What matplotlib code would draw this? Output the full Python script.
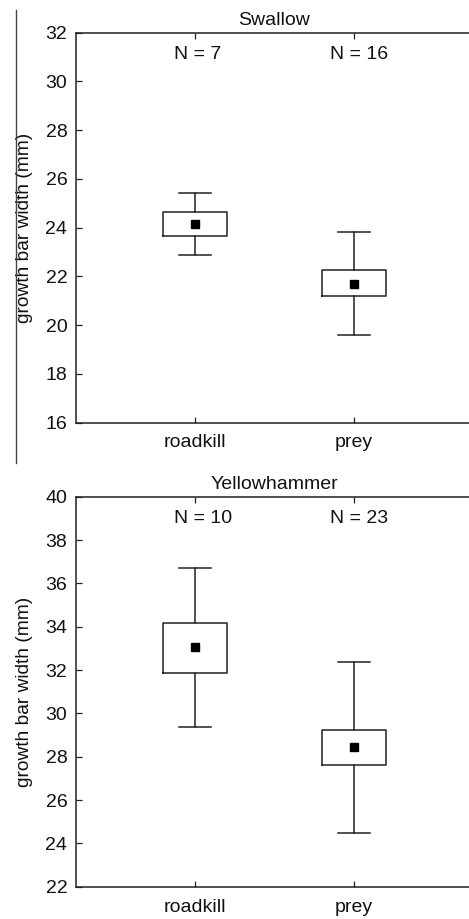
import matplotlib
matplotlib.use("Agg")
import matplotlib.pyplot as plt
from matplotlib.lines import Line2D

plt.rcParams['font.family'] = ['Liberation Sans', 'DejaVu Sans']

categories = ["roadkill", "prey"]

# Swallow
sw_title = "Swallow"
sw_n = [7, 16]
sw_mean = [24.17, 21.71]
sw_q1 = [23.66, 21.19]
sw_q3 = [24.63, 22.25]
sw_lo = [22.88, 19.60]
sw_hi = [25.41, 23.81]
sw_ylim = (16, 32)
sw_yticks = [16, 18, 20, 22, 24, 26, 28, 30, 32]

# Yellowhammer
yh_title = "Yellowhammer"
yh_n = [10, 23]
yh_mean = [33.04, 28.44]
yh_q1 = [31.88, 27.61]
yh_q3 = [34.19, 29.25]
yh_lo = [29.39, 24.46]
yh_hi = [36.69, 32.39]
yh_ylim = (22, 40)
yh_yticks = [22, 24, 26, 28, 30, 32, 34, 36, 38, 40]

ylabel = "growth bar width (mm)"
LC = "#222222"
TC = "#111111"

fig = plt.figure(figsize=(4.69, 9.19), dpi=100)

def panel(rect, title, n, mean, q1, q3, lo, hi, ylim, yticks):
    ax = fig.add_axes(rect)
    stats = []
    for i in range(len(categories)):
        stats.append(dict(med=mean[i], mean=mean[i], q1=q1[i], q3=q3[i],
                          whislo=lo[i], whishi=hi[i], fliers=[], label=categories[i]))
    ax.bxp(stats, positions=[1, 2], widths=0.404, capwidths=0.203,
           showmeans=True, showfliers=False,
           boxprops=dict(color=LC, linewidth=1.1),
           whiskerprops=dict(color=LC, linewidth=1.1),
           capprops=dict(color=LC, linewidth=1.1),
           medianprops=dict(visible=False),
           meanprops=dict(marker='s', markerfacecolor='black', markeredgecolor='black',
                          markersize=5.5))
    ax.set_xlim(0.25, 2.75)
    ax.set_ylim(*ylim)
    ax.set_yticks(yticks)
    ax.set_xticks([1, 2])
    ax.set_xticklabels(categories)
    ax.tick_params(axis='both', direction='in', length=4, width=0.9, color=LC,
                   labelsize=14, pad=6, top=True, labelcolor=TC)
    ax.tick_params(axis='x', pad=8.5)
    ax.spines['right'].set_visible(False)
    for s in ['left', 'top', 'bottom']:
        ax.spines[s].set_color(LC)
        ax.spines[s].set_linewidth(1.1)
    ax.set_title(title, fontsize=14, pad=5.5, color=TC)
    ax.set_ylabel(ylabel, fontsize=13.8, color=TC)
    ax.yaxis.set_label_coords(-0.108, 0.5)
    xoff = [0.866, 1.847]
    for i in range(len(categories)):
        ax.text(xoff[i], 0.944, f"N = {n[i]}", transform=ax.get_xaxis_transform(),
                ha='left', va='center', fontsize=14, color=TC)
    return ax

panel([0.1614, 0.54005, 0.8475, 0.42437], sw_title, sw_n, sw_mean, sw_q1, sw_q3,
      sw_lo, sw_hi, sw_ylim, sw_yticks)
panel([0.1614, 0.03515, 0.8475, 0.42437], yh_title, yh_n, yh_mean, yh_q1, yh_q3,
      yh_lo, yh_hi, yh_ylim, yh_yticks)

# scan artifact vertical line at left
fig.add_artist(Line2D([15.7/469, 15.7/469], [1 - 10/919, 1 - 463/919],
                      transform=fig.transFigure, color='#444444', linewidth=1.0))

fig.savefig("out.png", dpi=100)
